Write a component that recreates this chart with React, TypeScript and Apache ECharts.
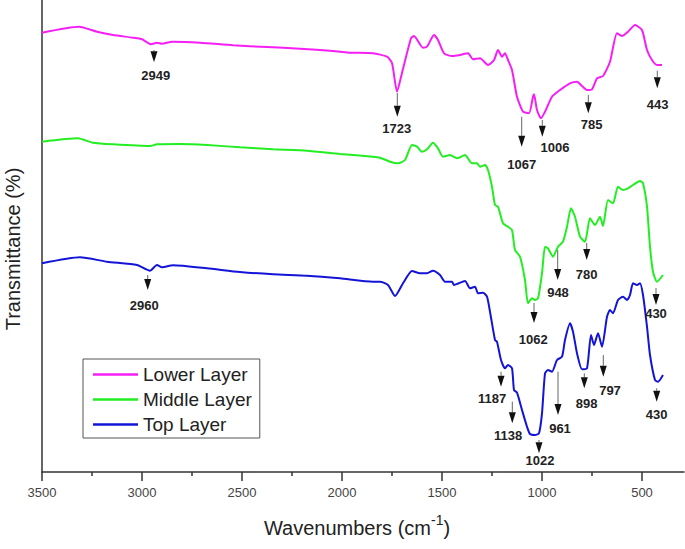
import React, { useEffect, useRef } from "react";
import * as echarts from "echarts";

const FONT = '"Liberation Sans", Arial, Helvetica, sans-serif';

const seriesNames = ["Lower Layer", "Middle Layer", "Top Layer"];
const seriesColors = ["#f51ff5", "#22ee22", "#1414d8"];

const majorTicks = [3500, 3000, 2500, 2000, 1500, 1000, 500];
const minorTicks = [3250, 2750, 2250, 1750, 1250, 750];

// [wavenumber (cm-1), transmittance (arb. units, offset traces)]
const lowerLayer = [
  [3500, 439.3], [3315, 445.3], [3225, 440.3], [3145, 437], [3045, 434.3], [3000, 432.7],
  [2955, 427.7], [2925, 429.3], [2900, 428.3], [2850, 430.3], [2710, 429.3], [2545, 426.7],
  [2375, 425], [2210, 423.3], [2045, 421], [2010, 420.3], [1960, 419.3], [1845, 418.7],
  [1775, 415.3], [1750, 409], [1725, 380.3], [1700, 399], [1655, 433.7], [1640, 436],
  [1595, 424.3], [1575, 425.3], [1540, 437], [1520, 432], [1490, 418.7], [1450, 416],
  [1410, 417], [1370, 418.7], [1345, 412.7], [1310, 413.7], [1270, 407], [1240, 412],
  [1220, 422], [1200, 415.3], [1185, 418.7], [1170, 412], [1150, 402], [1125, 375.3],
  [1095, 360.3], [1065, 358.7], [1045, 375.3], [1040, 377.7], [1025, 362], [1005, 353.7],
  [985, 360.3], [950, 375.3], [910, 382], [860, 388.7], [825, 390.3], [800, 386],
  [775, 382], [750, 382.7], [725, 393.7], [695, 396], [660, 410.3], [625, 438.7],
  [600, 436], [570, 440.3], [535, 447], [500, 442], [475, 422], [450, 412], [425, 407], [400, 407],
];

const middleLayer = [
  [3500, 330.3], [3320, 333.7], [3245, 329.3], [3145, 327.7], [2960, 326], [2925, 327.7],
  [2810, 328], [2675, 327], [2510, 324.7], [2345, 322.7], [2175, 321.3], [2010, 318],
  [1845, 315.3], [1810, 314.3], [1760, 310.3], [1720, 308.7], [1685, 312], [1650, 327],
  [1625, 325.3], [1600, 320.3], [1575, 322.7], [1545, 329.3], [1520, 323.7], [1495, 315.3],
  [1460, 317], [1425, 313.7], [1385, 317], [1350, 308.7], [1325, 308.7], [1310, 305.3],
  [1285, 307], [1270, 302], [1250, 285.3], [1235, 267], [1220, 265.3], [1195, 248.7],
  [1170, 245.3], [1150, 242], [1135, 222], [1110, 215.3], [1085, 192], [1070, 168.7],
  [1050, 173.7], [1035, 172], [1020, 173.7], [1000, 198.7], [985, 225.3], [970, 223.7],
  [945, 215.3], [920, 225.3], [895, 230.3], [875, 245.3], [855, 263.7], [835, 255.3],
  [810, 235.3], [785, 230.3], [760, 253.7], [735, 247], [710, 255.3], [695, 246],
  [670, 272], [645, 268.7], [620, 285.3], [595, 282], [570, 283.7], [545, 287],
  [510, 291], [495, 288.7], [475, 265.3], [460, 225.3], [445, 200.3], [425, 190.3], [395, 197],
];

const topLayer = [
  [3500, 208.7], [3310, 214.7], [3175, 210.3], [3025, 207], [2960, 201.3], [2925, 207],
  [2900, 204.7], [2845, 206.7], [2675, 203.7], [2510, 200], [2345, 197.7], [2175, 196.3],
  [2010, 193.7], [1845, 190.3], [1810, 190.3], [1770, 187], [1735, 176], [1695, 188.7],
  [1650, 201], [1610, 198.7], [1575, 198.7], [1545, 201.3], [1510, 197], [1485, 190.3],
  [1450, 190.3], [1440, 187], [1385, 191], [1360, 183.7], [1335, 185.3], [1320, 178.7],
  [1295, 179.3], [1275, 175.3], [1260, 160.3], [1235, 132], [1225, 130.3], [1205, 112],
  [1185, 103.7], [1170, 107], [1150, 103.7], [1140, 82], [1125, 79.3], [1100, 62],
  [1075, 45.3], [1060, 38], [1035, 37], [1015, 38.7], [1000, 58.7], [985, 98.7],
  [970, 102], [950, 100.3], [925, 112], [900, 115.3], [885, 132], [860, 148.7],
  [845, 140.3], [825, 118.7], [800, 102.7], [775, 103.7], [755, 137], [740, 127],
  [720, 138.7], [700, 125.3], [675, 155.3], [660, 162], [645, 158.7], [620, 172],
  [595, 175.3], [575, 172], [560, 177], [545, 188.7], [525, 187], [510, 188.7],
  [495, 177], [475, 145.3], [460, 117], [435, 92], [420, 90.3], [395, 97],
];

// Peak annotations: label, and [arrow wavenumber, arrow top, arrow tip, text wavenumber, text level]
const lowerPeakLabels = ["2949", "1723", "1067", "1006", "785", "443"];
const lowerPeakPos = [
  [2940, 422, 409.7, 2931.5, 396.3],
  [1723.5, 379, 355.3, 1726.5, 343.7],
  [1101.5, 355.3, 325.3, 1101.5, 308],
  [998.5, 352, 335.3, 935, 324.3],
  [768.5, 377, 358.7, 751.5, 347.7],
  [423.5, 401.3, 383.7, 421.5, 368],
];
const middlePeakLabels = ["948", "780", "1062", "430"];
const middlePeakPos = [
  [921.5, 222, 192, 920, 179.3],
  [776.5, 229, 212, 776.5, 198],
  [1040, 169, 149, 1043.5, 132.7],
  [430, 184, 167, 430, 158.7],
];
const topPeakLabels = ["2960", "1187", "1138", "1022", "961", "898", "797", "430"];
const topPeakPos = [
  [2971.5, 197, 182, 2988.5, 166.3],
  [1205, 100.3, 85.3, 1250, 73.7],
  [1148.5, 70.3, 48.7, 1170, 37],
  [1015, 32, 18.7, 1010, 12],
  [920, 100.3, 57, 910, 43.7],
  [788.5, 98.7, 83.7, 776.5, 68.7],
  [693.5, 117, 95.3, 660, 82],
  [426.5, 83.7, 70.3, 426.5, 58],
];

const peakLabels = [...lowerPeakLabels, ...middlePeakLabels, ...topPeakLabels];
const peakPos = [...lowerPeakPos, ...middlePeakPos, ...topPeakPos];

export default function App() {
  const ref = useRef<HTMLDivElement>(null);

  useEffect(() => {
    if (!ref.current) return;
    const chart = echarts.init(ref.current, null, { renderer: "svg" });
    const HEAD = 11;
    const HALF = 3.5;

    const lineSeries = [lowerLayer, middleLayer, topLayer].map((d, i) => ({
      name: seriesNames[i],
      type: "line",
      data: d,
      symbol: "none",
      smooth: 0.2,
      lineStyle: { color: seriesColors[i], width: 2 },
      itemStyle: { color: seriesColors[i] },
      z: 2,
    }));

    chart.setOption({
      animation: false,
      grid: { left: 42, top: 0, right: 1, bottom: 77, outerBoundsMode: "none", containLabel: false },
      legend: {
        data: seriesNames,
        orient: "vertical",
        left: 83,
        top: 359,
        padding: [6, 8, 4, 10],
        icon: "rect",
        itemGap: 6,
        itemWidth: 45,
        itemHeight: 2.5,
        borderColor: "#555",
        borderWidth: 1,
        textStyle: { fontFamily: FONT, fontSize: 19, color: "#222", lineHeight: 18 },
      },
      xAxis: [
        {
          type: "value",
          inverse: true,
          min: 290,
          max: 3500,
          position: "bottom",
          axisLine: { show: true, onZero: false, lineStyle: { color: "#333", width: 1.5 } },
          axisTick: { show: true, customValues: majorTicks, length: 9, lineStyle: { color: "#333", width: 1.5 } },
          axisLabel: {
            customValues: majorTicks,
            margin: 14,
            fontFamily: FONT,
            fontSize: 13,
            color: "#444",
            formatter: (v: number) => String(v),
          },
          splitLine: { show: false },
          name: "{a|Wavenumbers (cm}{s|-1}{a|)}",
          nameLocation: "middle",
          nameGap: 41,
          nameTextStyle: {
            padding: [0, 12, 0, 0],
            rich: {
              a: { fontFamily: FONT, fontSize: 20, color: "#222", lineHeight: 30 },
              s: { fontFamily: FONT, fontSize: 14, color: "#222", lineHeight: 14, verticalAlign: "top" },
            },
          },
        },
        {
          type: "value",
          inverse: true,
          min: 290,
          max: 3500,
          position: "bottom",
          axisLine: { show: false },
          axisTick: { show: true, customValues: minorTicks, length: 4, lineStyle: { color: "#333", width: 1.5 } },
          axisLabel: { show: false },
          splitLine: { show: false },
        },
      ],
      yAxis: {
        type: "value",
        min: 0,
        max: 472,
        axisLine: { show: true, lineStyle: { color: "#333", width: 1.5 } },
        axisTick: { show: false },
        axisLabel: { show: false },
        splitLine: { show: false },
        name: "Transmittance (%)",
        nameLocation: "middle",
        nameGap: 19,
        nameTextStyle: { fontFamily: FONT, fontSize: 20, color: "#222", padding: [0, 26, 0, 0] },
      },
      series: [
        ...lineSeries,
        {
          type: "custom",
          name: "peaks",
          coordinateSystem: "cartesian2d",
          data: peakPos,
          z: 5,
          silent: true,
          renderItem: (params: any, api: any) => {
            const x = api.value(0);
            const top = api.value(1);
            const tip = api.value(2);
            const tx = api.value(3);
            const ty = api.value(4);
            const p1 = api.coord([x, top]);
            const p2 = api.coord([x, tip]);
            const pt = api.coord([tx, ty]);
            const children: any[] = [];
            const headTop = p2[1] - HEAD;
            if (headTop - p1[1] > 0.5) {
              children.push({
                type: "line",
                shape: { x1: p1[0], y1: p1[1], x2: p2[0], y2: headTop },
                style: { stroke: "#666", lineWidth: 1 },
              });
            }
            children.push({
              type: "polygon",
              shape: { points: [[p2[0] - HALF, headTop], [p2[0] + HALF, headTop], [p2[0], p2[1]]] },
              style: { fill: "#111" },
            });
            children.push({
              type: "text",
              x: pt[0],
              y: pt[1],
              style: {
                text: peakLabels[params.dataIndex],
                fill: "#222",
                fontFamily: FONT,
                fontSize: 13,
                fontWeight: "bold",
                align: "center",
                verticalAlign: "middle",
              },
            });
            return { type: "group", children };
          },
        },
      ],
    });

    return () => chart.dispose();
  }, []);

  return <div ref={ref} style={{ position: "absolute", left: 0, top: 0, width: 685, height: 549 }} />;
}
